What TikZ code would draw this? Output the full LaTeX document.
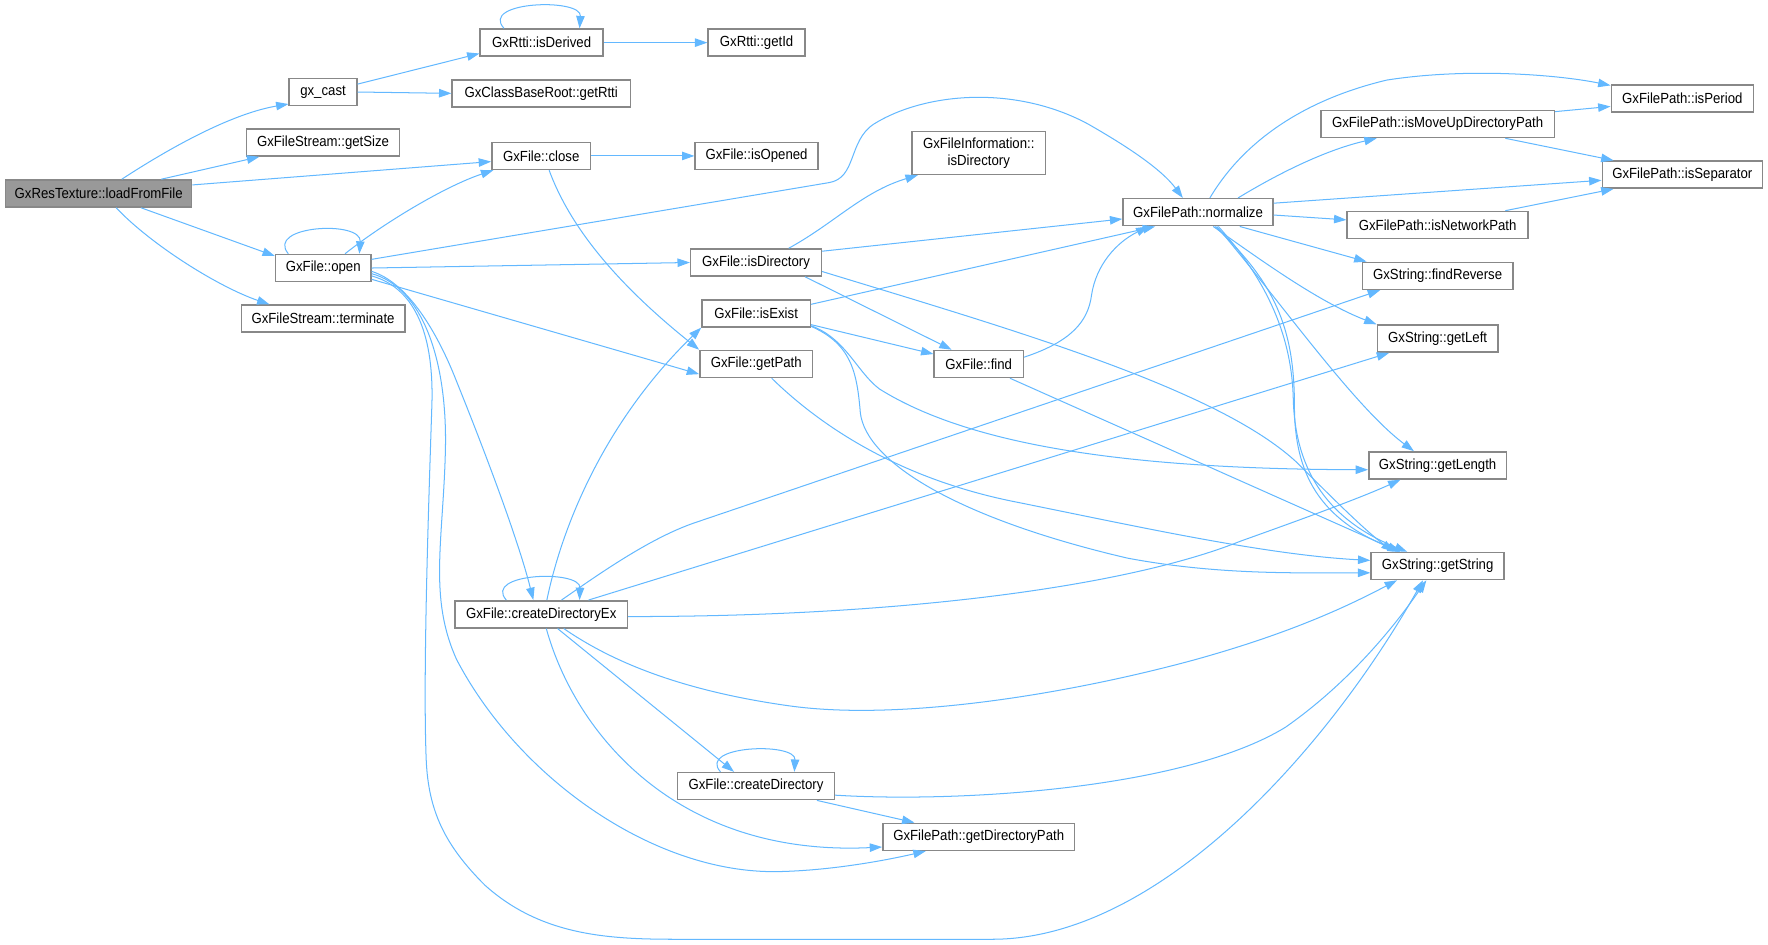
\documentclass[tikz,border=0pt]{standalone}
\usepackage{fontspec}
\newfontfamily\dxfont[FakeStretch=0.9]{Liberation Sans}
\usetikzlibrary{arrows.meta}
\definecolor{callblue}{HTML}{63B8FF}
\definecolor{boxgray}{HTML}{888888}
\definecolor{rootgray}{HTML}{999999}
\begin{document}
\begin{tikzpicture}[x=1pt,y=-1pt,
    >={Triangle[length=11pt,width=7.5pt]},
    fn/.style={draw=boxgray,line width=1.3pt,fill=white,minimum height=24pt,inner sep=0pt,font=\dxfont\fontsize{13}{15}\selectfont},
    call/.style={callblue,line width=0.9pt}]
    \useasboundingbox (0,0) rectangle (1568,838);
    %functions
    \node[fn,fill=rootgray,minimum width=165pt] (loadFromFile) at (87.5,171.6) {GxResTexture::loadFromFile};
    \node[fn,minimum width=60pt] (gxcast) at (286.5,81.6) {gx\_cast};
    \node[fn,minimum width=136pt] (getSize) at (286.5,126.4) {GxFileStream::getSize};
    \node[fn,minimum width=84.5pt] (open) at (286.7,237.7) {GxFile::open};
    \node[fn,minimum width=145pt] (terminate) at (286.5,282.6) {GxFileStream::terminate};
    \node[fn,minimum width=109pt] (isDerived) at (480.4,37.8) {GxRtti::isDerived};
    \node[fn,minimum width=158pt] (getRtti) at (480,82.8) {GxClassBaseRoot::getRtti};
    \node[fn,minimum width=87.6pt] (close) at (480,138.3) {GxFile::close};
    \node[fn,minimum width=153pt] (createDirEx) at (480,544.8) {GxFile::createDirectoryEx};
    \node[fn,minimum width=86pt] (getId) at (671,37.8) {GxRtti::getId};
    \node[fn,minimum width=109pt] (isOpened) at (671,138.3) {GxFile::isOpened};
    \node[fn,minimum width=116pt] (isDirectory) at (670.5,232.8) {GxFile::isDirectory};
    \node[fn,minimum width=96pt] (isExist) at (670.6,277.9) {GxFile::isExist};
    \node[fn,minimum width=100pt] (getPath) at (670.7,322.8) {GxFile::getPath};
    \node[fn,minimum width=139pt] (createDirectory) at (670.5,697.2) {GxFile::createDirectory};
    \node[fn,minimum width=118pt,minimum height=38pt,align=center] (fiIsDirectory) at (868,135.7) {GxFileInformation::\\isDirectory};
    \node[fn,minimum width=79pt] (find) at (868,322.8) {GxFile::find};
    \node[fn,minimum width=170pt] (getDirectoryPath) at (868,742.2) {GxFilePath::getDirectoryPath};
    \node[fn,minimum width=133pt] (normalize) at (1062.5,188.2) {GxFilePath::normalize};
    \node[fn,minimum width=207pt] (isMoveUp) at (1275,110) {GxFilePath::isMoveUpDirectoryPath};
    \node[fn,minimum width=160.5pt] (isNetworkPath) at (1275,199.5) {GxFilePath::isNetworkPath};
    \node[fn,minimum width=133.5pt] (findReverse) at (1275,244.7) {GxString::findReverse};
    \node[fn,minimum width=107pt] (getLeft) at (1275,300.3) {GxString::getLeft};
    \node[fn,minimum width=122pt] (getLength) at (1275,412.8) {GxString::getLength};
    \node[fn,minimum width=118pt] (getString) at (1275,502) {GxString::getString};
    \node[fn,minimum width=126pt] (isPeriod) at (1492,87.4) {GxFilePath::isPeriod};
    \node[fn,minimum width=142pt] (isSeparator) at (1492,154.9) {GxFilePath::isSeparator};
    %calls
    \draw [->,call] ([xshift=20.5pt]loadFromFile.north) .. controls (160,125) and (210,100) .. ([yshift=2pt]gxcast.south west);
    \draw [->,call] ([xshift=55.5pt]loadFromFile.north) -- ([xshift=-56.5pt]getSize.south);
    \draw [->,call] ([yshift=7.6pt]loadFromFile.east) -- ([yshift=-5pt]close.west);
    \draw [->,call] ([xshift=37.5pt]loadFromFile.south) -- ([yshift=-2pt]open.north west);
    \draw [->,call] ([xshift=15.5pt]loadFromFile.south) .. controls (135,218) and (195,255) .. ([xshift=-47.5pt]terminate.north);
    \draw [->,call] ([yshift=7pt]gxcast.east) -- ([yshift=3pt]isDerived.south west);
    \draw [->,call] (gxcast.east) -- (getRtti.west);
    \draw [->,call] ([xshift=-33.4pt]isDerived.north) .. controls (425,1) and (516,-2) .. ([xshift=33.6pt]isDerived.north);
    \draw [->,call] (isDerived.east) -- (getId.west);
    \draw [->,call] (close.east) -- (isOpened.west);
    \draw [->,call] ([xshift=7pt]close.south) .. controls (505,200) and (545,250) .. (getPath.north west);
    \draw [->,call] ([xshift=-31pt]open.north) .. controls (235,200) and (321,195) .. ([xshift=32pt]open.north);
    \draw [->,call] ([xshift=19.3pt]open.north) .. controls (340,198) and (395,165) .. ([xshift=2pt]close.south west);
    \draw [->,call] ([yshift=7.7pt]open.east) -- (735,162) .. controls (760,158) and (752,125) .. (775,110) .. controls (820,82) and (900,75) .. (965,110) .. controls (1000,130) and (1030,150) .. ([xshift=-13.5pt]normalize.north);
    \draw [->,call] (open.east) -- (isDirectory.west);
    \draw [->,call] ([yshift=-10pt]open.east) -- ([yshift=-9pt]getPath.west);
    \draw [->,call] ([yshift=-3pt]open.east) .. controls (360,250) and (385,290) .. (402,331) .. controls (430,400) and (460,480) .. ([xshift=-7pt]createDirEx.north);
    \draw [->,call] ([yshift=-5pt]open.east) .. controls (375,255) and (397,320) .. (395,400) .. controls (393,480) and (380,530) .. (405,585) .. controls (460,690) and (580,775) .. (690,773) .. controls (740,772) and (790,762) .. ([xshift=-47pt]getDirectoryPath.south);
    \draw [->,call] ([yshift=-7pt]open.east) .. controls (370,256) and (385,300) .. (383,360) .. controls (380,450) and (375,600) .. (378,674) .. controls (380,720) and (395,750) .. (430,785) .. controls (480,830) and (540,833) .. (600,833) -- (880,833) .. controls (1030,833) and (1180,660) .. ([xshift=-13pt]getString.south);
    \draw [->,call] ([xshift=29pt]isDirectory.north) .. controls (740,198) and (765,170) .. ([xshift=-54pt]fiIsDirectory.south);
    \draw [->,call] ([yshift=10pt]isDirectory.east) -- ([yshift=-6pt]normalize.west);
    \draw [->,call] ([xshift=43.5pt]isDirectory.south) -- ([xshift=-24pt]find.north);
    \draw [->,call] ([yshift=-8pt]isDirectory.east) .. controls (900,293) and (1080,345) .. (1150,410) .. controls (1180,440) and (1210,470) .. ([xshift=-39pt]getString.north);
    \draw [->,call] ([yshift=8pt]isExist.east) -- ([xshift=-38pt]normalize.south);
    \draw [->,call] ([yshift=-10pt]isExist.east) -- ([yshift=8.8pt]find.west);
    \draw [->,call] ([yshift=-11pt]isExist.east) .. controls (750,300) and (760,330) .. (780,345) .. controls (860,395) and (1000,416) .. ([yshift=-3.8pt]getLength.west);
    \draw [->,call] ([yshift=-11.5pt]isExist.east) .. controls (755,305) and (760,330) .. (763,366) .. controls (768,410) and (850,460) .. (1000,495) .. controls (1080,510) and (1150,508) .. ([yshift=-6pt]getString.west);
    \draw [->,call] ([xshift=13.7pt]getPath.south) .. controls (730,380) and (800,425) .. (900,445) .. controls (1000,465) and (1120,492) .. ([yshift=5pt]getString.west);
    \draw [->,call] ([yshift=6pt]find.east) .. controls (950,303) and (965,285) .. (968,262) .. controls (972,235) and (990,215) .. ([xshift=-44pt]normalize.south);
    \draw [->,call] ([xshift=27.7pt]find.south) -- ([xshift=-33.5pt]getString.north);
    \draw [->,call] ([xshift=10.5pt]normalize.north) .. controls (1100,130) and (1150,90) .. (1230,71) .. controls (1300,60) and (1380,66) .. ([yshift=-1pt]isPeriod.north west);
    \draw [->,call] ([xshift=35.5pt]normalize.north) .. controls (1140,150) and (1180,132) .. ([xshift=-54pt]isMoveUp.south);
    \draw [->,call] ([yshift=8pt]normalize.east) -- ([yshift=-5pt]isSeparator.west);
    \draw [->,call] ([yshift=-2.5pt]normalize.east) -- ([yshift=4.5pt]isNetworkPath.west);
    \draw [->,call] ([xshift=37pt]normalize.south) -- ([xshift=-63pt]findReverse.north);
    \draw [->,call] ([xshift=13.5pt]normalize.south) .. controls (1120,232) and (1170,268) .. (getLeft.north west);
    \draw [->,call] ([xshift=16.5pt]normalize.south) .. controls (1130,260) and (1200,360) .. ([xshift=-21pt]getLength.north);
    \draw [->,call] ([xshift=15pt]normalize.south) .. controls (1130,250) and (1148,290) .. (1148,360) .. controls (1148,420) and (1170,460) .. ([xshift=-33pt]getString.north);
    \draw [->,call] ([xshift=18pt]normalize.south) .. controls (1125,250) and (1146,300) .. (1147,355) .. controls (1149,420) and (1180,462) .. ([xshift=-27pt]getString.north);
    \draw [->,call] ([yshift=11pt]isMoveUp.east) -- ([yshift=-7pt]isPeriod.west);
    \draw [->,call] ([xshift=60pt]isMoveUp.south) -- ([xshift=-61pt]isSeparator.north);
    \draw [->,call] ([xshift=60pt]isNetworkPath.north) -- ([xshift=-61pt]isSeparator.south);
    \draw [->,call] ([xshift=-31pt]createDirEx.north) .. controls (428,508) and (515,505) .. ([xshift=34pt]createDirEx.north);
    \draw [->,call] ([xshift=5pt]createDirEx.north) .. controls (500,460) and (540,370) .. (isExist.south west);
    \draw [->,call] ([xshift=18pt]createDirEx.north) .. controls (530,510) and (575,478) .. (615,464) -- ([xshift=-51pt]findReverse.south);
    \draw [->,call] ([xshift=42pt]createDirEx.north) -- ([xshift=-43pt]getLeft.south);
    \draw [->,call] ([yshift=-2pt]createDirEx.east) .. controls (800,547) and (1000,520) .. (1100,480) .. controls (1170,455) and (1210,440) .. ([xshift=-33pt]getLength.south);
    \draw [->,call] ([xshift=20pt]createDirEx.south) .. controls (540,585) and (600,612) .. (700,626) .. controls (800,640) and (950,615) .. (1060,585) .. controls (1150,560) and (1200,535) .. ([xshift=-36pt]getString.south);
    \draw [->,call] ([xshift=14.5pt]createDirEx.south) -- ([xshift=-19.5pt]createDirectory.north);
    \draw [->,call] ([xshift=4.5pt]createDirEx.south) .. controls (510,650) and (600,760) .. ([yshift=-9pt]getDirectoryPath.west);
    \draw [->,call] ([xshift=-31.5pt]createDirectory.north) .. controls (618,661) and (706,658) .. ([xshift=34pt]createDirectory.north);
    \draw [->,call] ([yshift=-8pt]createDirectory.east) .. controls (850,712) and (1050,700) .. (1140,645) .. controls (1190,610) and (1230,565) .. ([xshift=-10pt]getString.south);
    \draw [->,call] ([xshift=54pt]createDirectory.south) -- ([xshift=-57pt]getDirectoryPath.north);
\end{tikzpicture}
\end{document}
